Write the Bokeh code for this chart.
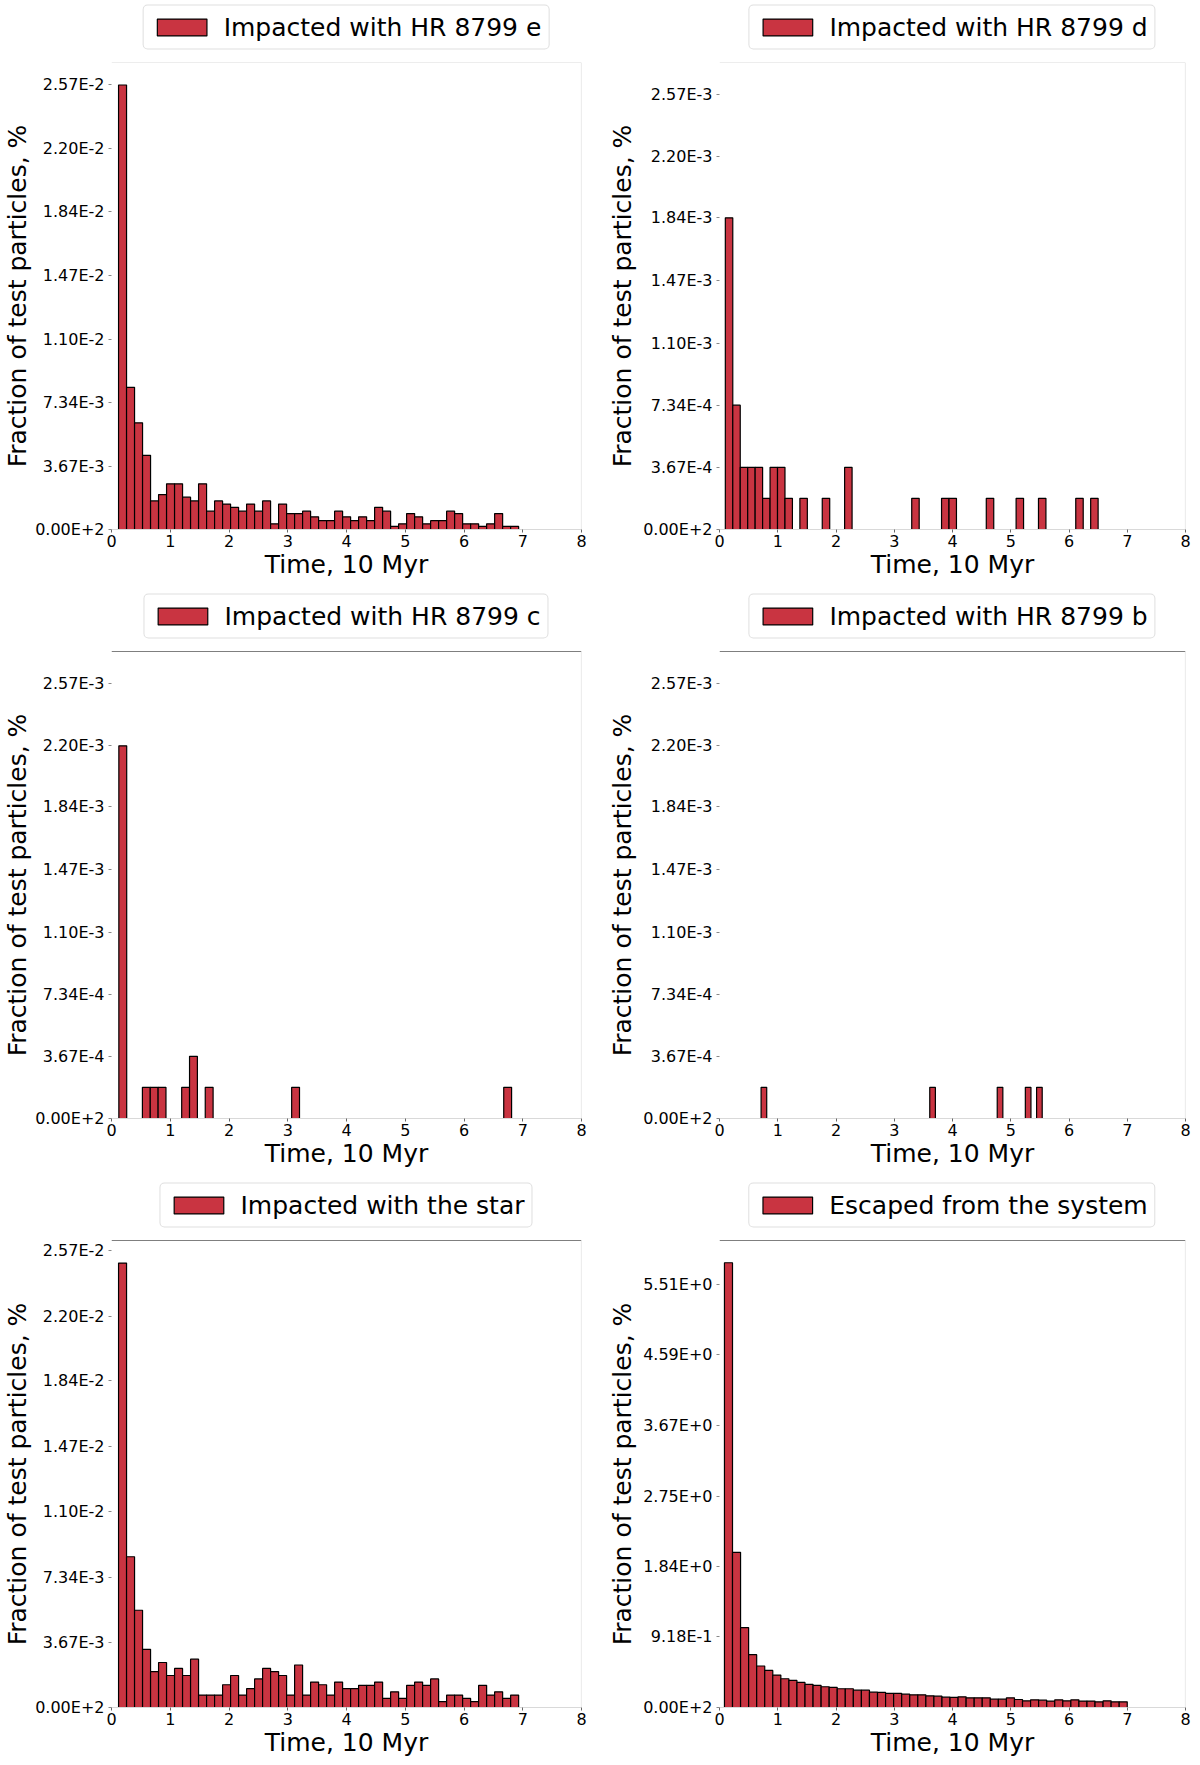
import numpy as np
from bokeh.plotting import figure
from bokeh.layouts import column, row
from bokeh.models import (Range1d, FixedTicker, Legend, LegendItem, Span,
                          CustomJSTickFormatter)
from bokeh.embed import file_html
from bokeh.resources import INLINE

## ----- CONSTANTS ----- ##
RED = "#c93441"
FONT = "DejaVu Sans"

## ----- DATA (fraction of test particles, % ; 50 bins between first and last event) ----- ##
X_TICKS = [0, 1, 2, 3, 4, 5, 6, 7, 8]

E_RANGE = (0.12, 6.93)
E_FRAC = [2.57e-2, 8.22e-3, 6.17e-3, 4.29e-3, 1.65e-3, 2.02e-3, 2.64e-3, 2.64e-3, 1.87e-3, 1.65e-3,
          2.64e-3, 1.06e-3, 1.65e-3, 1.47e-3, 1.28e-3, 1.06e-3, 1.47e-3, 1.06e-3, 1.65e-3, 3.3e-4,
          1.47e-3, 9.2e-4, 9.2e-4, 1.06e-3, 7.3e-4, 5.1e-4, 5.1e-4, 1.06e-3, 7.3e-4, 5.1e-4,
          7.3e-4, 5.1e-4, 1.28e-3, 1.06e-3, 1.8e-4, 3.3e-4, 9.2e-4, 7.3e-4, 3.3e-4, 5.1e-4,
          5.1e-4, 1.06e-3, 9.2e-4, 3.3e-4, 3.3e-4, 1.8e-4, 3.3e-4, 9.2e-4, 1.8e-4, 1.8e-4]

D_RANGE = (0.10, 6.50)
D_FRAC = [1.84e-3, 7.34e-4, 3.67e-4, 3.67e-4, 3.67e-4, 1.84e-4, 3.67e-4, 3.67e-4, 1.84e-4, 0,
          1.84e-4, 0, 0, 1.84e-4, 0, 0, 3.67e-4, 0, 0, 0,
          0, 0, 0, 0, 0, 1.84e-4, 0, 0, 0, 1.84e-4,
          1.84e-4, 0, 0, 0, 0, 1.84e-4, 0, 0, 0, 1.84e-4,
          0, 0, 1.84e-4, 0, 0, 0, 0, 1.84e-4, 0, 1.84e-4]

C_RANGE = (0.125, 6.81)
C_FRAC = [2.20e-3, 0, 0, 1.84e-4, 1.84e-4, 1.84e-4, 0, 0, 1.84e-4, 3.67e-4,
          0, 1.84e-4, 0, 0, 0, 0, 0, 0, 0, 0,
          0, 0, 1.84e-4, 0, 0, 0, 0, 0, 0, 0,
          0, 0, 0, 0, 0, 0, 0, 0, 0, 0,
          0, 0, 0, 0, 0, 0, 0, 0, 0, 1.84e-4]

B_RANGE = (0.714, 5.54)
B_FRAC = [1.84e-4, 0, 0, 0, 0, 0, 0, 0, 0, 0,
          0, 0, 0, 0, 0, 0, 0, 0, 0, 0,
          0, 0, 0, 0, 0, 0, 0, 0, 0, 0,
          1.84e-4, 0, 0, 0, 0, 0, 0, 0, 0, 0,
          0, 0, 1.84e-4, 0, 0, 0, 0, 1.84e-4, 0, 1.84e-4]

STAR_RANGE = (0.12, 6.93)
STAR_FRAC = [2.50e-2, 8.48e-3, 5.47e-3, 3.27e-3, 2.02e-3, 2.53e-3, 1.80e-3, 2.20e-3, 1.80e-3, 2.72e-3,
             7.0e-4, 7.0e-4, 7.0e-4, 1.28e-3, 1.80e-3, 7.0e-4, 1.06e-3, 1.61e-3, 2.20e-3, 2.02e-3,
             1.80e-3, 7.0e-4, 2.39e-3, 7.0e-4, 1.43e-3, 1.28e-3, 7.0e-4, 1.43e-3, 1.06e-3, 1.06e-3,
             1.25e-3, 1.25e-3, 1.43e-3, 5.1e-4, 8.8e-4, 5.1e-4, 1.25e-3, 1.43e-3, 1.25e-3, 1.61e-3,
             3.3e-4, 7.0e-4, 7.0e-4, 5.1e-4, 3.3e-4, 1.25e-3, 7.0e-4, 8.8e-4, 5.1e-4, 7.0e-4]

ESC_RANGE = (0.085, 7.00)
ESC_FRAC = [5.79, 2.02, 1.04, 0.688, 0.540, 0.483, 0.422, 0.374, 0.352, 0.326,
            0.300, 0.287, 0.270, 0.261, 0.244, 0.244, 0.226, 0.226, 0.200, 0.196,
            0.183, 0.183, 0.174, 0.165, 0.165, 0.152, 0.148, 0.135, 0.132, 0.139,
            0.126, 0.126, 0.126, 0.109, 0.109, 0.126, 0.104, 0.087, 0.100, 0.096,
            0.083, 0.100, 0.087, 0.100, 0.083, 0.083, 0.074, 0.087, 0.074, 0.074]

# y ticks / labels as printed on the figure
TICKS_BIG = [0, 3.67e-3, 7.34e-3, 1.10e-2, 1.47e-2, 1.84e-2, 2.20e-2, 2.57e-2]
LABELS_BIG = ["0.00E+2", "3.67E-3", "7.34E-3", "1.10E-2", "1.47E-2", "1.84E-2", "2.20E-2", "2.57E-2"]
TICKS_SMALL = [0, 3.67e-4, 7.34e-4, 1.10e-3, 1.47e-3, 1.84e-3, 2.20e-3, 2.57e-3]
LABELS_SMALL = ["0.00E+2", "3.67E-4", "7.34E-4", "1.10E-3", "1.47E-3", "1.84E-3", "2.20E-3", "2.57E-3"]
TICKS_ESC = [0, 0.918, 1.84, 2.75, 3.67, 4.59, 5.51]
LABELS_ESC = ["0.00E+2", "9.18E-1", "1.84E+0", "2.75E+0", "3.67E+0", "4.59E+0", "5.51E+0"]

Y_TOP_E = 2.70e-2
Y_TOP_SMALL = 2.757e-3
Y_TOP_STAR = 2.627e-2
Y_TOP_ESC = 6.08

FMT_CODE = """
let best = 0;
for (let i = 0; i < vals.length; i++) {
    if (Math.abs(vals[i] - tick) < Math.abs(vals[best] - tick)) best = i;
}
return labels[best];
"""

FRAME_H = 467
BAR_STYLE = dict(fill_color=RED, fill_alpha=1.0, line_color="black", line_width=1.2)


def legend_strip(label, edges, fracs, right_col):
    # thin plot holding the boxed legend above each panel; the bars are kept out of view
    s = figure(frame_width=466 if right_col else 470, frame_height=54,
               min_border_left=120 if right_col else 104,
               min_border_right=6 if right_col else 18,
               min_border_top=0, min_border_bottom=0,
               x_range=Range1d(0, 8), y_range=Range1d(-2, -1),
               x_axis_location=None, y_axis_location=None,
               output_backend="svg", toolbar_location=None)
    s.xgrid.visible = False
    s.ygrid.visible = False
    s.outline_line_color = None
    s.border_fill_color = "white"
    r = s.quad(left=edges[:-1], right=edges[1:], bottom=0, top=fracs, **BAR_STYLE)
    legend = Legend(items=[LegendItem(label=label, renderers=[r])], location="center",
                    label_text_font=FONT, label_text_font_size="25px", label_text_color="black",
                    glyph_width=62, glyph_height=21, label_standoff=11, padding=7, spacing=0,
                    margin=0, border_line_color="#c0c0c0", border_line_width=1.5,
                    border_radius=5, background_fill_color="white", background_fill_alpha=1.0)
    s.add_layout(legend)
    return s


def hist_panel(edges, fracs, y_top, y_ticks, y_labels, right_col, row_i):
    p = figure(frame_width=466 if right_col else 470, frame_height=FRAME_H,
               min_border_left=120 if right_col else 104,
               min_border_right=6 if right_col else 18,
               min_border_top=8, min_border_bottom=56 if row_i == 2 else 60,
               x_range=Range1d(0, 8), y_range=Range1d(0, y_top),
               output_backend="svg", toolbar_location=None)
    p.xgrid.visible = False
    p.ygrid.visible = False
    p.outline_line_color = None
    p.background_fill_color = "white"
    p.border_fill_color = "white"

    p.quad(left=edges[:-1], right=edges[1:], bottom=0, top=fracs, **BAR_STYLE)

    # x axis
    xa = p.xaxis[0]
    xa.ticker = FixedTicker(ticks=X_TICKS)
    xa.axis_label = "Time, 10 Myr"
    xa.axis_label_text_font = FONT
    xa.axis_label_text_font_style = "normal"
    xa.axis_label_text_font_size = "25px"
    xa.axis_label_text_color = "black"
    xa.axis_label_standoff = 0
    xa.major_label_text_font = FONT
    xa.major_label_text_font_size = "16px"
    xa.major_label_text_color = "black"
    xa.major_label_standoff = 2
    xa.axis_line_color = "#d9d9d9"
    xa.axis_line_width = 1.2
    xa.major_tick_out = 3
    xa.major_tick_in = 0
    xa.major_tick_line_color = "#666666"
    xa.minor_tick_line_color = None

    # y axis
    ya = p.yaxis[0]
    ya.ticker = FixedTicker(ticks=y_ticks)
    ya.formatter = CustomJSTickFormatter(args=dict(vals=y_ticks, labels=y_labels), code=FMT_CODE)
    ya.axis_label = "Fraction of test particles, %"
    ya.axis_label_text_font = FONT
    ya.axis_label_text_font_style = "normal"
    ya.axis_label_text_font_size = "25px"
    ya.axis_label_text_color = "black"
    ya.axis_label_standoff = 3 if right_col else 0
    ya.major_label_text_font = FONT
    ya.major_label_text_font_size = "16px"
    ya.major_label_text_color = "black"
    ya.major_label_standoff = 4
    ya.axis_line_color = None
    ya.major_tick_out = 3
    ya.major_tick_in = 0
    ya.major_tick_line_color = "#888888"
    ya.minor_tick_line_color = None

    # frame lines: top (black below the first row) and right
    p.add_layout(Span(location=y_top, dimension="width",
                      line_color="#dcdcdc" if row_i == 0 else "black", line_width=1.2))
    p.add_layout(Span(location=8, dimension="height", line_color="#dcdcdc", line_width=1.2))
    return p


def cell(label, t_range, fracs, y_top, y_ticks, y_labels, right_col, row_i):
    edges = np.linspace(t_range[0], t_range[1], len(fracs) + 1)
    return column(legend_strip(label, edges, fracs, right_col),
                  hist_panel(edges, fracs, y_top, y_ticks, y_labels, right_col, row_i))


layout = column(
    row(cell("Impacted with HR 8799 e", E_RANGE, E_FRAC, Y_TOP_E, TICKS_BIG, LABELS_BIG, False, 0),
        cell("Impacted with HR 8799 d", D_RANGE, D_FRAC, Y_TOP_SMALL, TICKS_SMALL, LABELS_SMALL, True, 0)),
    row(cell("Impacted with HR 8799 c", C_RANGE, C_FRAC, Y_TOP_SMALL, TICKS_SMALL, LABELS_SMALL, False, 1),
        cell("Impacted with HR 8799 b", B_RANGE, B_FRAC, Y_TOP_SMALL, TICKS_SMALL, LABELS_SMALL, True, 1)),
    row(cell("Impacted with the star", STAR_RANGE, STAR_FRAC, Y_TOP_STAR, TICKS_BIG, LABELS_BIG, False, 2),
        cell("Escaped from the system", ESC_RANGE, ESC_FRAC, Y_TOP_ESC, TICKS_ESC, LABELS_ESC, True, 2)),
)

open("out.html", "w").write(file_html(layout, INLINE))
